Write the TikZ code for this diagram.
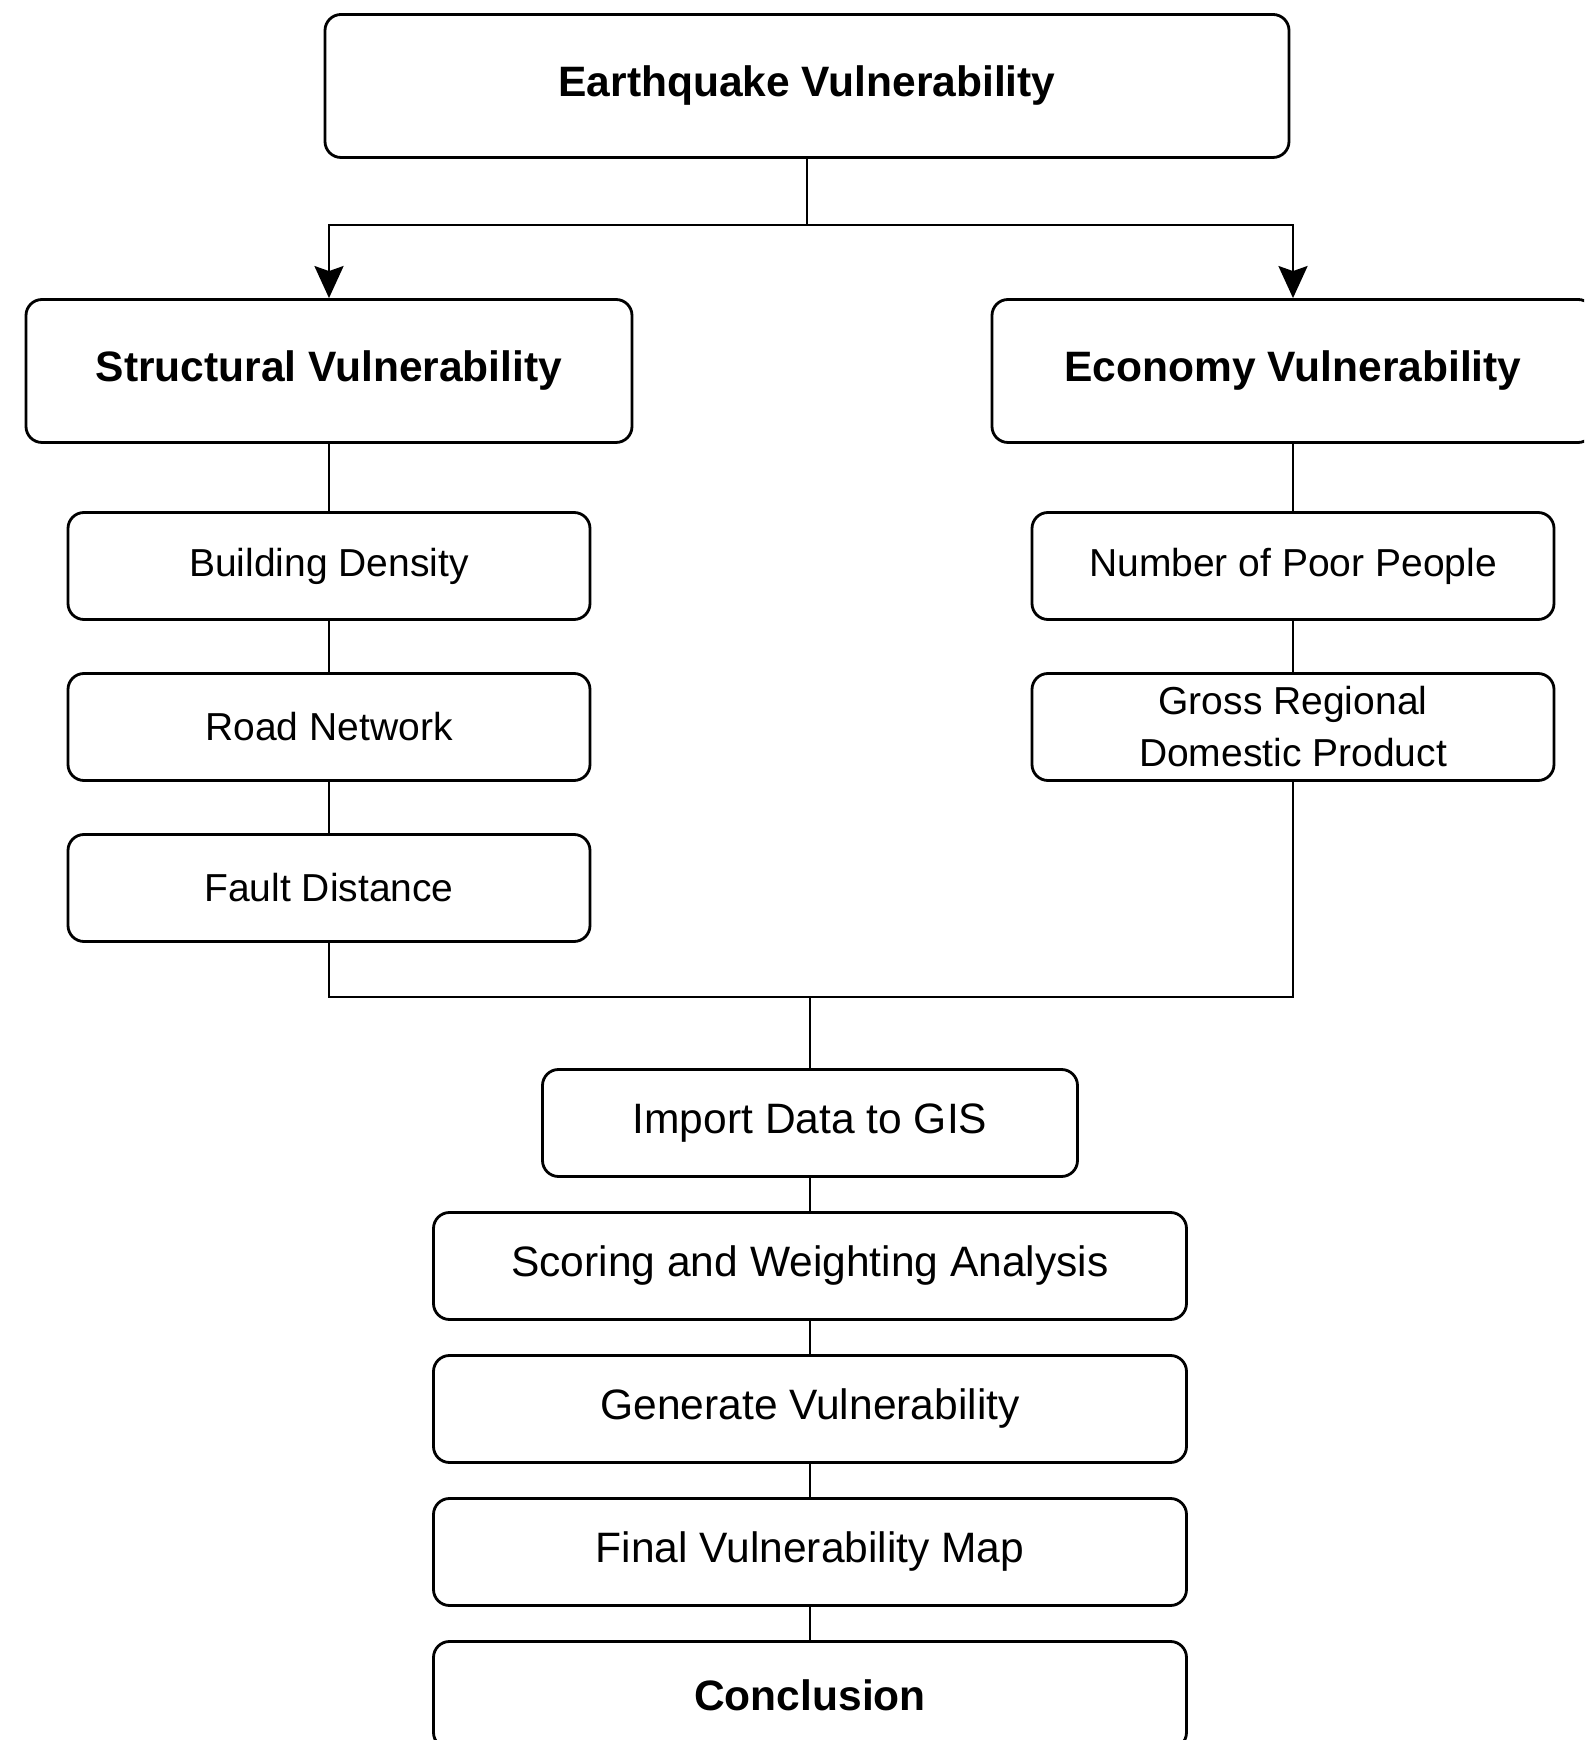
\documentclass[tikz,border=0pt]{standalone}
\usepackage{fontspec}
\setmainfont{Liberation Sans}
\usetikzlibrary{arrows.meta}

\begin{document}
\begin{tikzpicture}
          [line width=0.8pt,
           every node/.style={draw, rounded corners=0.16cm, align=center, inner sep=0pt, minimum height=1.07cm},
           head/.style={minimum height=1.43cm, font=\fontsize{12.1}{14.5}\selectfont\bfseries},
           item/.style={minimum width=5.22cm, font=\fontsize{11.1}{14.8}\selectfont},
           task/.style={minimum width=7.53cm, font=\fontsize{12.1}{14.5}\selectfont}]
        \useasboundingbox (0,0) rectangle (15.84,17.40);
        \clip (0,0) rectangle (15.84,17.40);

        \node[head, minimum width=9.64cm] (t1) at (8.07,16.54) {Earthquake Vulnerability};

        \node[head, minimum width=6.06cm] (s1) at (3.29,13.69) {Structural Vulnerability};
        \node[item] (s2) at (3.29,11.74) {Building Density};
        \node[item] (s3) at (3.29,10.13) {Road Network};
        \node[item] (s4) at (3.29,8.52) {Fault Distance};

        \node[head, minimum width=6.02cm] (e1) at (12.93,13.69) {Economy Vulnerability};
        \node[item] (e2) at (12.93,11.74) {Number of Poor People};
        \node[item] (e3) at (12.93,10.13) {Gross Regional\\Domestic Product};

        \node[task, minimum width=5.35cm] (p1) at (8.10,6.17) {Import Data to GIS};
        \node[task] (p2) at (8.10,4.74) {Scoring and Weighting Analysis};
        \node[task] (p3) at (8.10,3.31) {Generate Vulnerability};
        \node[task] (p4) at (8.10,1.88) {Final Vulnerability Map};
        \node[task, font=\fontsize{12.1}{14.5}\selectfont\bfseries] (p5) at (8.10,0.45) {Conclusion};

        \coordinate (split) at (8.07,15.15);
        \coordinate (join) at (8.10,7.43);

        \draw (t1) -- (split);
        \foreach \to in {s1, e1}
          \draw (split) edge[-{Stealth[length=3.2mm, width=2.9mm, inset=0.5mm]}, to path={-| (\tikztotarget)}] (\to.north);

        \foreach \from/\to in {s1/s2, s2/s3, s3/s4, e1/e2, e2/e3, p1/p2, p2/p3, p3/p4, p4/p5}
          \draw (\from) -- (\to);

        \draw (s4.south) |- (join);
        \draw (e3.south) |- (join);
        \draw (join) -- (p1);
      \end{tikzpicture}
\end{document}
